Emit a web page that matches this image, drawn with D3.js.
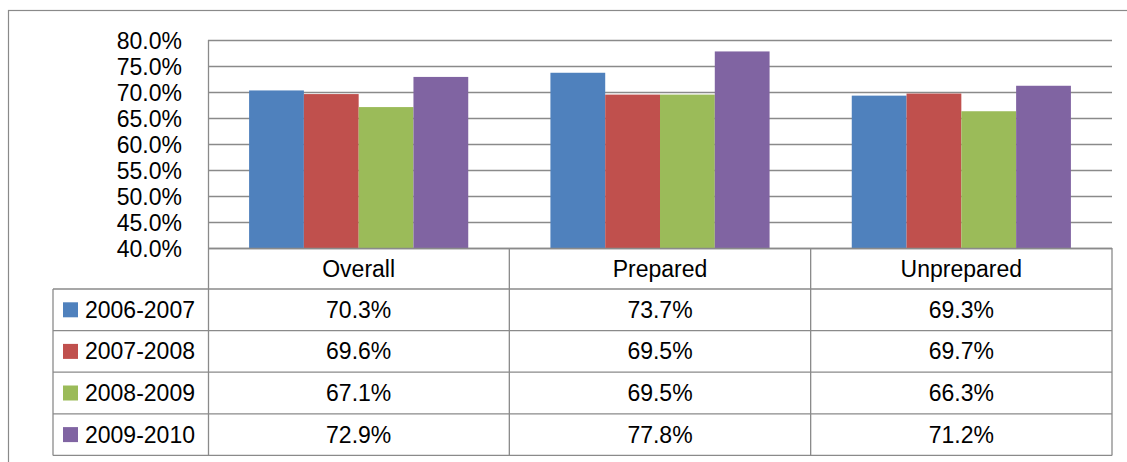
<!DOCTYPE html>
<html><head><meta charset="utf-8">
<script src="https://cdn.jsdelivr.net/npm/d3@7"></script>
<style>
html,body{margin:0;padding:0;background:#fff;}
svg{display:block;font-family:"Liberation Sans",Arial,sans-serif;}
</style></head>
<body>
<svg id="chart" width="1127" height="462"></svg>
<script>
const categories = ["Overall", "Prepared", "Unprepared"];
const seriesNames = ["2006-2007", "2007-2008", "2008-2009", "2009-2010"];
const values2006 = [0.703, 0.737, 0.693];
const values2007 = [0.696, 0.695, 0.697];
const values2008 = [0.671, 0.695, 0.663];
const values2009 = [0.729, 0.778, 0.712];
const tickValues = [0.40, 0.45, 0.50, 0.55, 0.60, 0.65, 0.70, 0.75, 0.80];
const colors = ["#4F81BD", "#C0504D", "#9BBB59", "#8064A2"];

(function () {
const seriesValues = [values2006, values2007, values2008, values2009];
const svg = d3.select("#chart");
const gridColor = "#8a8a8a";
const fmt = d3.format(".1%");
const fontSize = 23;

const pLeft = 208, pRight = 1112, pTop = 40, pBottom = 248;
const tableLeft = 53;
const headerBottom = 289;
const rowH = 41.6;

// outer border
svg.append("rect").attr("x", 8.5).attr("y", 10.5).attr("width", 1130).attr("height", 470)
  .attr("fill", "none").attr("stroke", gridColor).attr("stroke-width", 1.2);

const x = d3.scaleBand().domain(categories).range([pLeft, pRight]).padding(0);
const xs = d3.scaleBand().domain(seriesNames).range([0, x.bandwidth()]).paddingInner(0).paddingOuter(0.75);
const y = d3.scaleLinear().domain([0.4, 0.8]).range([pBottom, pTop]);

// gridlines
svg.append("g").selectAll("line").data(tickValues).join("line")
  .attr("x1", pLeft).attr("x2", pRight)
  .attr("y1", d => Math.round(y(d)) + 0.5).attr("y2", d => Math.round(y(d)) + 0.5)
  .attr("stroke", gridColor).attr("stroke-width", 1.3);

// bars
seriesNames.forEach((s, i) => {
  svg.append("g").selectAll("rect").data(seriesValues[i]).join("rect")
    .attr("x", (d, j) => x(categories[j]) + xs(s))
    .attr("width", xs.bandwidth())
    .attr("y", d => y(d))
    .attr("height", d => pBottom - y(d))
    .attr("fill", colors[i]);
});

// y axis
const yAxis = d3.axisLeft(y).tickValues(tickValues).tickFormat(fmt).tickSize(0).tickPadding(26);
const ga = svg.append("g").attr("transform", `translate(${pLeft},0)`).call(yAxis);
ga.select(".domain").remove();
ga.selectAll("text").attr("font-size", fontSize).attr("fill", "#000")
  .attr("font-family", "'Liberation Sans',Arial,sans-serif").attr("dy", "0.35em");

// table lines
const tableBottom = headerBottom + rowH * seriesNames.length;
const tg = svg.append("g").attr("stroke", gridColor).attr("stroke-width", 1.3).attr("fill", "none");
tg.append("line").attr("x1", pLeft + 0.5).attr("x2", pLeft + 0.5).attr("y1", pTop).attr("y2", tableBottom);
[...categories.map(c => x(c)).slice(1), pRight].forEach(px => {
  tg.append("line").attr("x1", px).attr("x2", px).attr("y1", pBottom).attr("y2", tableBottom);
});
tg.append("line").attr("x1", pLeft).attr("x2", pRight).attr("y1", pBottom + 0.5).attr("y2", pBottom + 0.5);
for (let r = 0; r <= seriesNames.length; r++) {
  const yy = headerBottom + r * rowH;
  tg.append("line").attr("x1", tableLeft).attr("x2", pRight).attr("y1", yy).attr("y2", yy);
}
tg.append("line").attr("x1", tableLeft).attr("x2", tableLeft).attr("y1", headerBottom).attr("y2", tableBottom);

// header labels
svg.append("g").selectAll("text").data(categories).join("text")
  .attr("x", d => x(d) + x.bandwidth() / 2)
  .attr("y", (pBottom + headerBottom) / 2)
  .attr("dy", "0.35em").attr("text-anchor", "middle")
  .attr("font-size", fontSize).attr("fill", "#000").text(d => d);

// rows
seriesNames.forEach((s, i) => {
  const cy = headerBottom + i * rowH + rowH / 2;
  svg.append("rect").attr("x", 63).attr("y", cy - 7.5).attr("width", 15).attr("height", 15).attr("fill", colors[i]);
  svg.append("text").attr("x", 85).attr("y", cy).attr("dy", "0.35em")
    .attr("font-size", fontSize).attr("fill", "#000").text(s);
  svg.append("g").selectAll("text").data(seriesValues[i]).join("text")
    .attr("x", (d, j) => x(categories[j]) + x.bandwidth() / 2)
    .attr("y", cy).attr("dy", "0.35em").attr("text-anchor", "middle")
    .attr("font-size", fontSize).attr("fill", "#000").text(d => fmt(d));
});
})();
</script>
</body></html>
